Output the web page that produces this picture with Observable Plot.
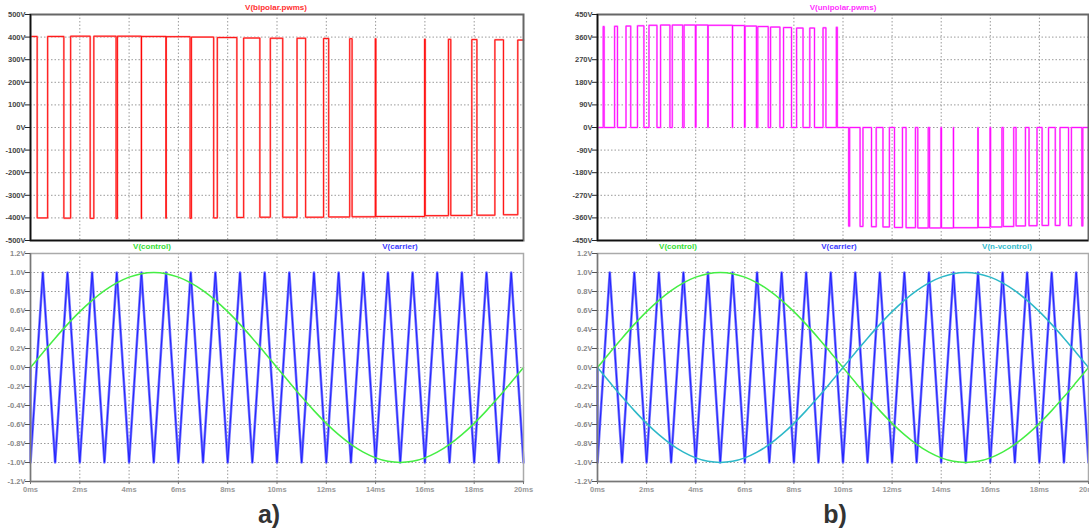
<!DOCTYPE html>
<html><head><meta charset="utf-8">
<script src="https://cdn.jsdelivr.net/npm/d3@7"></script>
<script src="https://cdn.jsdelivr.net/npm/@observablehq/plot@0.6"></script>
<style>
body{margin:0;background:#fff;}
#wrap{position:relative;width:1089px;height:529px;overflow:hidden;background:#fff;}
.p{position:absolute;}
.lbl{position:absolute;font:bold 8px "Liberation Sans",Arial,sans-serif;transform:translateX(-50%);white-space:nowrap;line-height:1;}
.big{position:absolute;font:bold 25px "Liberation Sans",Arial,sans-serif;color:#333;transform:translateX(-50%);line-height:1;}
</style></head>
<body><div id="wrap"></div>
<script>
// ---------- data ----------
const timeTicks = [0,2,4,6,8,10,12,14,16,18,20];
const timeTickLabels = ["0ms","2ms","4ms","6ms","8ms","10ms","12ms","14ms","16ms","18ms","20ms"];
const bipolarTicks = [-500,-400,-300,-200,-100,0,100,200,300,400,500];
const bipolarTickLabels = ["-500V","-400V","-300V","-200V","-100V","0V","100V","200V","300V","400V","500V"];
const unipolarTicks = [-450,-360,-270,-180,-90,0,90,180,270,360,450];
const unipolarTickLabels = ["-450V","-360V","-270V","-180V","-90V","0V","90V","180V","270V","360V","450V"];
const ctrlTicks = [-1.2,-1.0,-0.8,-0.6,-0.4,-0.2,0,0.2,0.4,0.6,0.8,1.0,1.2];
const ctrlTickLabels = ["-1.2V","-1.0V","-0.8V","-0.6V","-0.4V","-0.2V","0.0V","0.2V","0.4V","0.6V","0.8V","1.0V","1.2V"];

// bipolar PWM: switching instants (ms) and output level after each switch (V)
const bipolarMs = [0,0.271,0.696,1.353,1.628,2.422,2.569,3.472,3.526,4.497,4.503,5.497,5.503,6.474,6.528,7.431,7.578,8.372,8.647,9.304,9.729,10.232,10.813,11.161,11.890,12.097,12.950,13.046,13.988,14.012,15.988,16.013,16.954,17.050,17.903,18.110,18.839,19.187,19.768,20];
const bipolarV = [403,-400,403,-401,404,-402,404,-403,404,-403,403,-402,402,-402,400,-400,398,-398,396,-397,395,-397,395,-397,394,-396,393,-395,393,-394,391,-390,390,-389,389,-388,388,-386,387,387];

// unipolar PWM
const unipolarMs = [0, 0.232,0.271, 0.696,0.813, 1.161,1.353, 1.628,1.890, 2.097,2.422, 2.569,2.950, 3.046,3.472, 3.526,3.988, 4.012,4.497, 4.503,5.497, 5.503,5.988, 6.012,6.474, 6.528,6.954, 7.050,7.431, 7.578,7.903, 8.110,8.372, 8.647,8.839, 9.187,9.304, 9.729,9.768, 10.232,10.271, 10.696,10.813, 11.161,11.353, 11.628,11.890, 12.097,12.422, 12.569,12.950, 13.046,13.472, 13.526,13.988, 14.012,14.497, 14.503,15.497, 15.503,15.988, 16.012,16.474, 16.528,16.954, 17.050,17.431, 17.578,17.903, 18.110,18.372, 18.647,18.839, 19.187,19.304, 19.729,19.768, 20];
const unipolarV = [0, 402,0, 403,0, 404,0, 405,0, 407,0, 408,0, 408,0, 408,0, 408,0, 407,0, 406,0, 404,0, 402,0, 400,0, 398,0, 396,0, 396,0, 397,0, 399,0, -393,0, -394,0, -395,0, -396,0, -398,0, -399,0, -400,0, -400,0, -400,0, -399,0, -398,0, -396,0, -394,0, -392,0, -391,0, -390,0, -390,0, -391,0, -392,0, 0];

// carrier triangle vertices
const carrierMs = [0,0,0.5,1,1.5,2,2.5,3,3.5,4,4.5,5,5.5,6,6.5,7,7.5,8,8.5,9,9.5,10,10.5,11,11.5,12,12.5,13,13.5,14,14.5,15,15.5,16,16.5,17,17.5,18,18.5,19,19.5,20];
const carrierV = [0,-1,1,-1,1,-1,1,-1,1,-1,1,-1,1,-1,1,-1,1,-1,1,-1,1,-1,1,-1,1,-1,1,-1,1,-1,1,-1,1,-1,1,-1,1,-1,1,-1,1,-1];

// control sine samples
const controlMs = [0,0.5,1,1.5,2,2.5,3,3.5,4,4.5,5,5.5,6,6.5,7,7.5,8,8.5,9,9.5,10,10.5,11,11.5,12,12.5,13,13.5,14,14.5,15,15.5,16,16.5,17,17.5,18,18.5,19,19.5,20];
const controlV = [0,0.156,0.309,0.454,0.588,0.707,0.809,0.891,0.951,0.988,1.0,0.988,0.951,0.891,0.809,0.707,0.588,0.454,0.309,0.156,0,-0.156,-0.309,-0.454,-0.588,-0.707,-0.809,-0.891,-0.951,-0.988,-1.0,-0.988,-0.951,-0.891,-0.809,-0.707,-0.588,-0.454,-0.309,-0.156,0];
const nControlV = [0,-0.156,-0.309,-0.454,-0.588,-0.707,-0.809,-0.891,-0.951,-0.988,-1.0,-0.988,-0.951,-0.891,-0.809,-0.707,-0.588,-0.454,-0.309,-0.156,0,0.156,0.309,0.454,0.588,0.707,0.809,0.891,0.951,0.988,1.0,0.988,0.951,0.891,0.809,0.707,0.588,0.454,0.309,0.156,0];

// ---------- build ----------
const zip = (ts, vs) => ts.map((t, i) => ({t, v: vs[i]}));
const bipolarData = zip(bipolarMs, bipolarV);
const unipolarData = zip(unipolarMs, unipolarV);
const carrierData = zip(carrierMs, carrierV);
const controlData = zip(controlMs, controlV);
const nControlData = zip(controlMs, nControlV);

const lab = (ticks, labels) => { const m = new Map(ticks.map((t,i)=>[t,labels[i]])); return d => m.get(d); };
const font = '"Liberation Sans", Arial, sans-serif';

function panel({width, height, ml, mr, mt, mb, yTicks, yLabels, top, marks}) {
  const ymin = yTicks[0], ymax = yTicks[yTicks.length-1];
  return Plot.plot({
    width, height, marginLeft: ml, marginRight: mr, marginTop: mt, marginBottom: mb,
    x: {domain: [0, 20], axis: null, label: null},
    y: {domain: [ymin, ymax], axis: null, label: null},
    style: {fontFamily: font, fontSize: "7.5px", fontWeight: "bold", background: "transparent", overflow: "visible"},
    marks: [
      Plot.gridX(timeTicks.slice(1, -1), {stroke: "#9a9a9a", strokeOpacity: 1, strokeDasharray: "1.5,2"}),
      Plot.gridY(yTicks.slice(1, -1), {stroke: "#9a9a9a", strokeOpacity: 1, strokeDasharray: "1.5,2"}),
      ...marks,
      Plot.frame({stroke: top ? "#666" : "#aaa", strokeWidth: top ? 2 : 1.5}),
      Plot.ruleX([0], {stroke: top ? "#111" : "#777", strokeWidth: 1.5}),
      Plot.ruleY([ymin], {stroke: top ? "#111" : "#777", strokeWidth: 1.5}),
      Plot.axisY(yTicks, {label: null, tickFormat: lab(yTicks, yLabels), tickSize: 5, tickPadding: 0, stroke: top ? "#222" : "#555", fill: top ? "#444" : "#888"}),
      top ? null : Plot.axisX(timeTicks, {label: null, tickFormat: lab(timeTicks, timeTickLabels), tickSize: 3, tickPadding: 2, stroke: "#777", fill: "#999"})
    ]
  });
}

const wrap = document.getElementById("wrap");
function place(el, left, topPx) { el.classList.add("p"); el.style.left = left + "px"; el.style.top = topPx + "px"; wrap.appendChild(el); }
function label(text, x, y, color, cls = "lbl") { const d = document.createElement("div"); d.className = cls; d.textContent = text; d.style.left = x + "px"; d.style.top = y + "px"; d.style.color = color; wrap.appendChild(d); }

const carrierMarks = [
  Plot.line(carrierData, {x: "t", y: "v", stroke: "#7676ff", strokeWidth: 2.6}),
  Plot.line(carrierData, {x: "t", y: "v", stroke: "#1818ff", strokeWidth: 0.9})
];
const controlMark = Plot.line(controlData, {x: "t", y: "v", stroke: "#44ee44", strokeWidth: 1.5, curve: "catmull-rom"});
const nControlMark = Plot.line(nControlData, {x: "t", y: "v", stroke: "#2cb8c8", strokeWidth: 1.5, curve: "catmull-rom"});

// left top
place(panel({width: 540, height: 246, ml: 30, mr: 17, mt: 14, mb: 6, yTicks: bipolarTicks, yLabels: bipolarTickLabels, top: true,
  marks: [
    Plot.line(bipolarData, {x: "t", y: "v", curve: "step-after", stroke: "#ffa0a0", strokeWidth: 2}),
    Plot.line(bipolarData, {x: "t", y: "v", curve: "step-after", stroke: "#ff0000", strokeWidth: 0.9})
  ]}), 0, 0);
// left bottom
place(panel({width: 540, height: 255, ml: 30, mr: 17, mt: 8, mb: 19, yTicks: ctrlTicks, yLabels: ctrlTickLabels, top: false,
  marks: [...carrierMarks, controlMark]}), 0, 245);
// right top
place(panel({width: 534, height: 246, ml: 42, mr: 1, mt: 14, mb: 6, yTicks: unipolarTicks, yLabels: unipolarTickLabels, top: true,
  marks: [
    Plot.line(unipolarData, {x: "t", y: "v", curve: "step-after", stroke: "#ffa0ff", strokeWidth: 2}),
    Plot.line(unipolarData, {x: "t", y: "v", curve: "step-after", stroke: "#ff00ff", strokeWidth: 0.9})
  ]}), 555, 0);
// right bottom
place(panel({width: 534, height: 255, ml: 42, mr: 1, mt: 8, mb: 19, yTicks: ctrlTicks, yLabels: ctrlTickLabels, top: false,
  marks: [...carrierMarks, controlMark, nControlMark]}), 555, 245);

label("V(bipolar.pwms)", 276, 4, "#ff3030");
label("V(unipolar.pwms)", 843, 4, "#ff30ff");
label("V(control)", 152, 243, "#33dd33");
label("V(carrier)", 400, 243, "#3a3aff");
label("V(control)", 678, 243, "#33dd33");
label("V(carrier)", 839, 243, "#3a3aff");
label("V(n-vcontrol)", 1007, 243, "#33bbcc");
label("a)", 269, 502, "#333", "big");
label("b)", 835, 502, "#333", "big");
</script>
</body></html>
